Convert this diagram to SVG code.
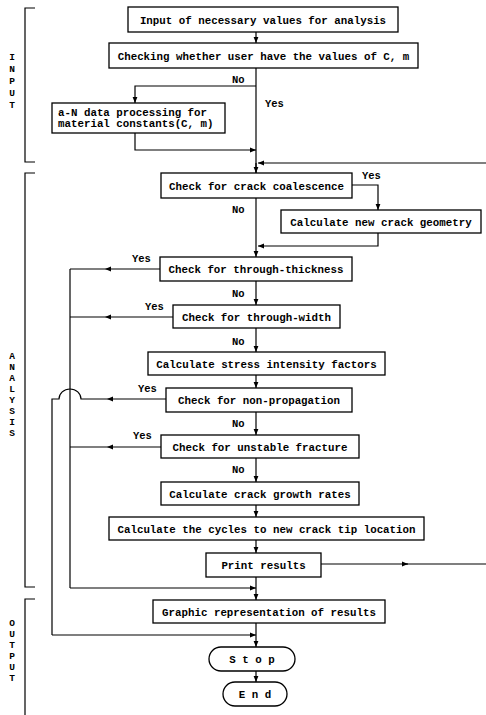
<svg xmlns="http://www.w3.org/2000/svg" width="486" height="715" viewBox="0 0 486 715">
<style>
.b{fill:#fff;stroke:#000;stroke-width:1.3}
.t{font-family:"Liberation Mono",monospace;font-size:10.8px;font-weight:bold;fill:#000;text-anchor:middle}
.l{font-family:"Liberation Mono",monospace;font-size:10.5px;font-weight:bold;fill:#000}
.s{font-family:"Liberation Mono",monospace;font-size:9.5px;font-weight:bold;fill:#000;text-anchor:middle}
.c{fill:none;stroke:#000;stroke-width:1.2}
.a{fill:none;stroke:#000;stroke-width:1.2;marker-end:url(#ah)}
</style>
<defs>
<marker id="ah" viewBox="0 0 10 10" refX="10" refY="5" markerWidth="7" markerHeight="6" markerUnits="userSpaceOnUse" orient="auto">
<path d="M0,1 L10,5 L0,9 Z" fill="#000"/>
</marker>
</defs>
<g id="brackets">
<path class="c" d="M35,8 H25 V162 H35"/>
<path class="c" d="M35,173 H25 V587 H35"/>
<path class="c" d="M35,599 H25 V715"/>
<text class="s"><tspan x="12" y="60">I</tspan><tspan x="12" y="72">N</tspan><tspan x="12" y="84">P</tspan><tspan x="12" y="96">U</tspan><tspan x="12" y="108">T</tspan></text>
<text class="s"><tspan x="12" y="359">A</tspan><tspan x="12" y="370">N</tspan><tspan x="12" y="381">A</tspan><tspan x="12" y="392">L</tspan><tspan x="12" y="403">Y</tspan><tspan x="12" y="414">S</tspan><tspan x="12" y="425">I</tspan><tspan x="12" y="436">S</tspan></text>
<text class="s"><tspan x="12" y="626">O</tspan><tspan x="12" y="637">U</tspan><tspan x="12" y="648">T</tspan><tspan x="12" y="659">P</tspan><tspan x="12" y="670">U</tspan><tspan x="12" y="681">T</tspan></text>
</g>
<g id="connectors">
<path class="a" d="M256,32 V43"/>
<path class="c" d="M256,68 V173"/>
<path class="a" d="M256,86 H135 V103"/>
<path class="a" d="M135,133 V150 H256"/>
<path class="a" d="M486,163 H258"/>
<path class="a" d="M256,163 V173"/>
<path class="a" d="M352,185 H378 V210"/>
<path class="a" d="M378,233 V246 H258"/>
<path class="a" d="M256,198 V257"/>
<path class="a" d="M256,281 V305"/>
<path class="a" d="M256,328 V352"/>
<path class="a" d="M256,375 V388"/>
<path class="a" d="M256,412 V435"/>
<path class="a" d="M256,458 V482"/>
<path class="a" d="M256,505 V517"/>
<path class="a" d="M256,540 V553"/>
<path class="a" d="M256,577 V600"/>
<path class="a" d="M256,623 V647"/>
<path class="a" d="M256,671 V682"/>
<path class="a" d="M160,269 H105"/><path class="c" d="M105,269 H70"/>
<path class="a" d="M173,317 H105"/><path class="c" d="M105,317 H70"/>
<path class="a" d="M166,399 H107"/><path class="c" d="M107,399 H81 A11,10 0 0 0 59,399 H52 V635"/>
<path class="a" d="M161,447 H107"/><path class="c" d="M107,447 H70"/>
<path class="c" d="M70,269 V588"/>
<path class="a" d="M70,588 H256"/>
<path class="a" d="M52,635 H256"/>
<path class="a" d="M321,564 H408"/><path class="c" d="M406,564 H486"/>
</g>
<g id="labels" class="l">
<text x="232" y="83">No</text>
<text x="265" y="107">Yes</text>
<text x="362" y="179">Yes</text>
<text x="232" y="213">No</text>
<text x="132" y="262">Yes</text>
<text x="232" y="297">No</text>
<text x="145" y="310">Yes</text>
<text x="232" y="345">No</text>
<text x="138" y="392">Yes</text>
<text x="232" y="427">No</text>
<text x="133" y="439">Yes</text>
<text x="232" y="473">No</text>
</g>
<g id="n1"><rect class="b" x="128" y="7" width="270" height="25"/><text class="t" x="263" y="23.5">Input of necessary values for analysis</text></g>
<g id="n2"><rect class="b" x="109" y="43" width="309" height="25"/><text class="t" x="263.5" y="59.5">Checking whether user have the values of C, m</text></g>
<g id="n3"><rect class="b" x="52" y="103" width="173" height="30"/><text class="t" x="58" y="116" style="text-anchor:start">a-N data processing for</text><text class="t" x="58" y="127" style="text-anchor:start">material constants(C, m)</text></g>
<g id="n4"><rect class="b" x="161" y="173" width="191" height="25"/><text class="t" x="256.5" y="189.5">Check for crack coalescence</text></g>
<g id="n5"><rect class="b" x="281" y="210" width="200" height="23"/><text class="t" x="381" y="225.5">Calculate new crack geometry</text></g>
<g id="n6"><rect class="b" x="160" y="257" width="192" height="24"/><text class="t" x="256" y="273">Check for through-thickness</text></g>
<g id="n7"><rect class="b" x="173" y="305" width="167" height="23"/><text class="t" x="256.5" y="320.5">Check for through-width</text></g>
<g id="n8"><rect class="b" x="148" y="352" width="237" height="23"/><text class="t" x="266.5" y="367.5">Calculate stress intensity factors</text></g>
<g id="n9"><rect class="b" x="166" y="388" width="186" height="24"/><text class="t" x="259" y="404">Check for non-propagation</text></g>
<g id="n10"><rect class="b" x="161" y="435" width="198" height="23"/><text class="t" x="260" y="450.5">Check for unstable fracture</text></g>
<g id="n11"><rect class="b" x="161" y="482" width="198" height="23"/><text class="t" x="260" y="497.5">Calculate crack growth rates</text></g>
<g id="n12"><rect class="b" x="109" y="517" width="315" height="23"/><text class="t" x="266.5" y="532.5">Calculate the cycles to new crack tip location</text></g>
<g id="n13"><rect class="b" x="206" y="553" width="115" height="24"/><text class="t" x="263.5" y="569">Print results</text></g>
<g id="n14"><rect class="b" x="153" y="600" width="232" height="23"/><text class="t" x="269" y="615.5">Graphic representation of results</text></g>
<g id="n15"><rect class="b" x="209" y="647" width="86" height="24" rx="12" ry="12"/><text class="t" x="252" y="663">S t o p</text></g>
<g id="n16"><rect class="b" x="223" y="682" width="64" height="24" rx="12" ry="12"/><text class="t" x="255" y="698">E n d</text></g>
</svg>
